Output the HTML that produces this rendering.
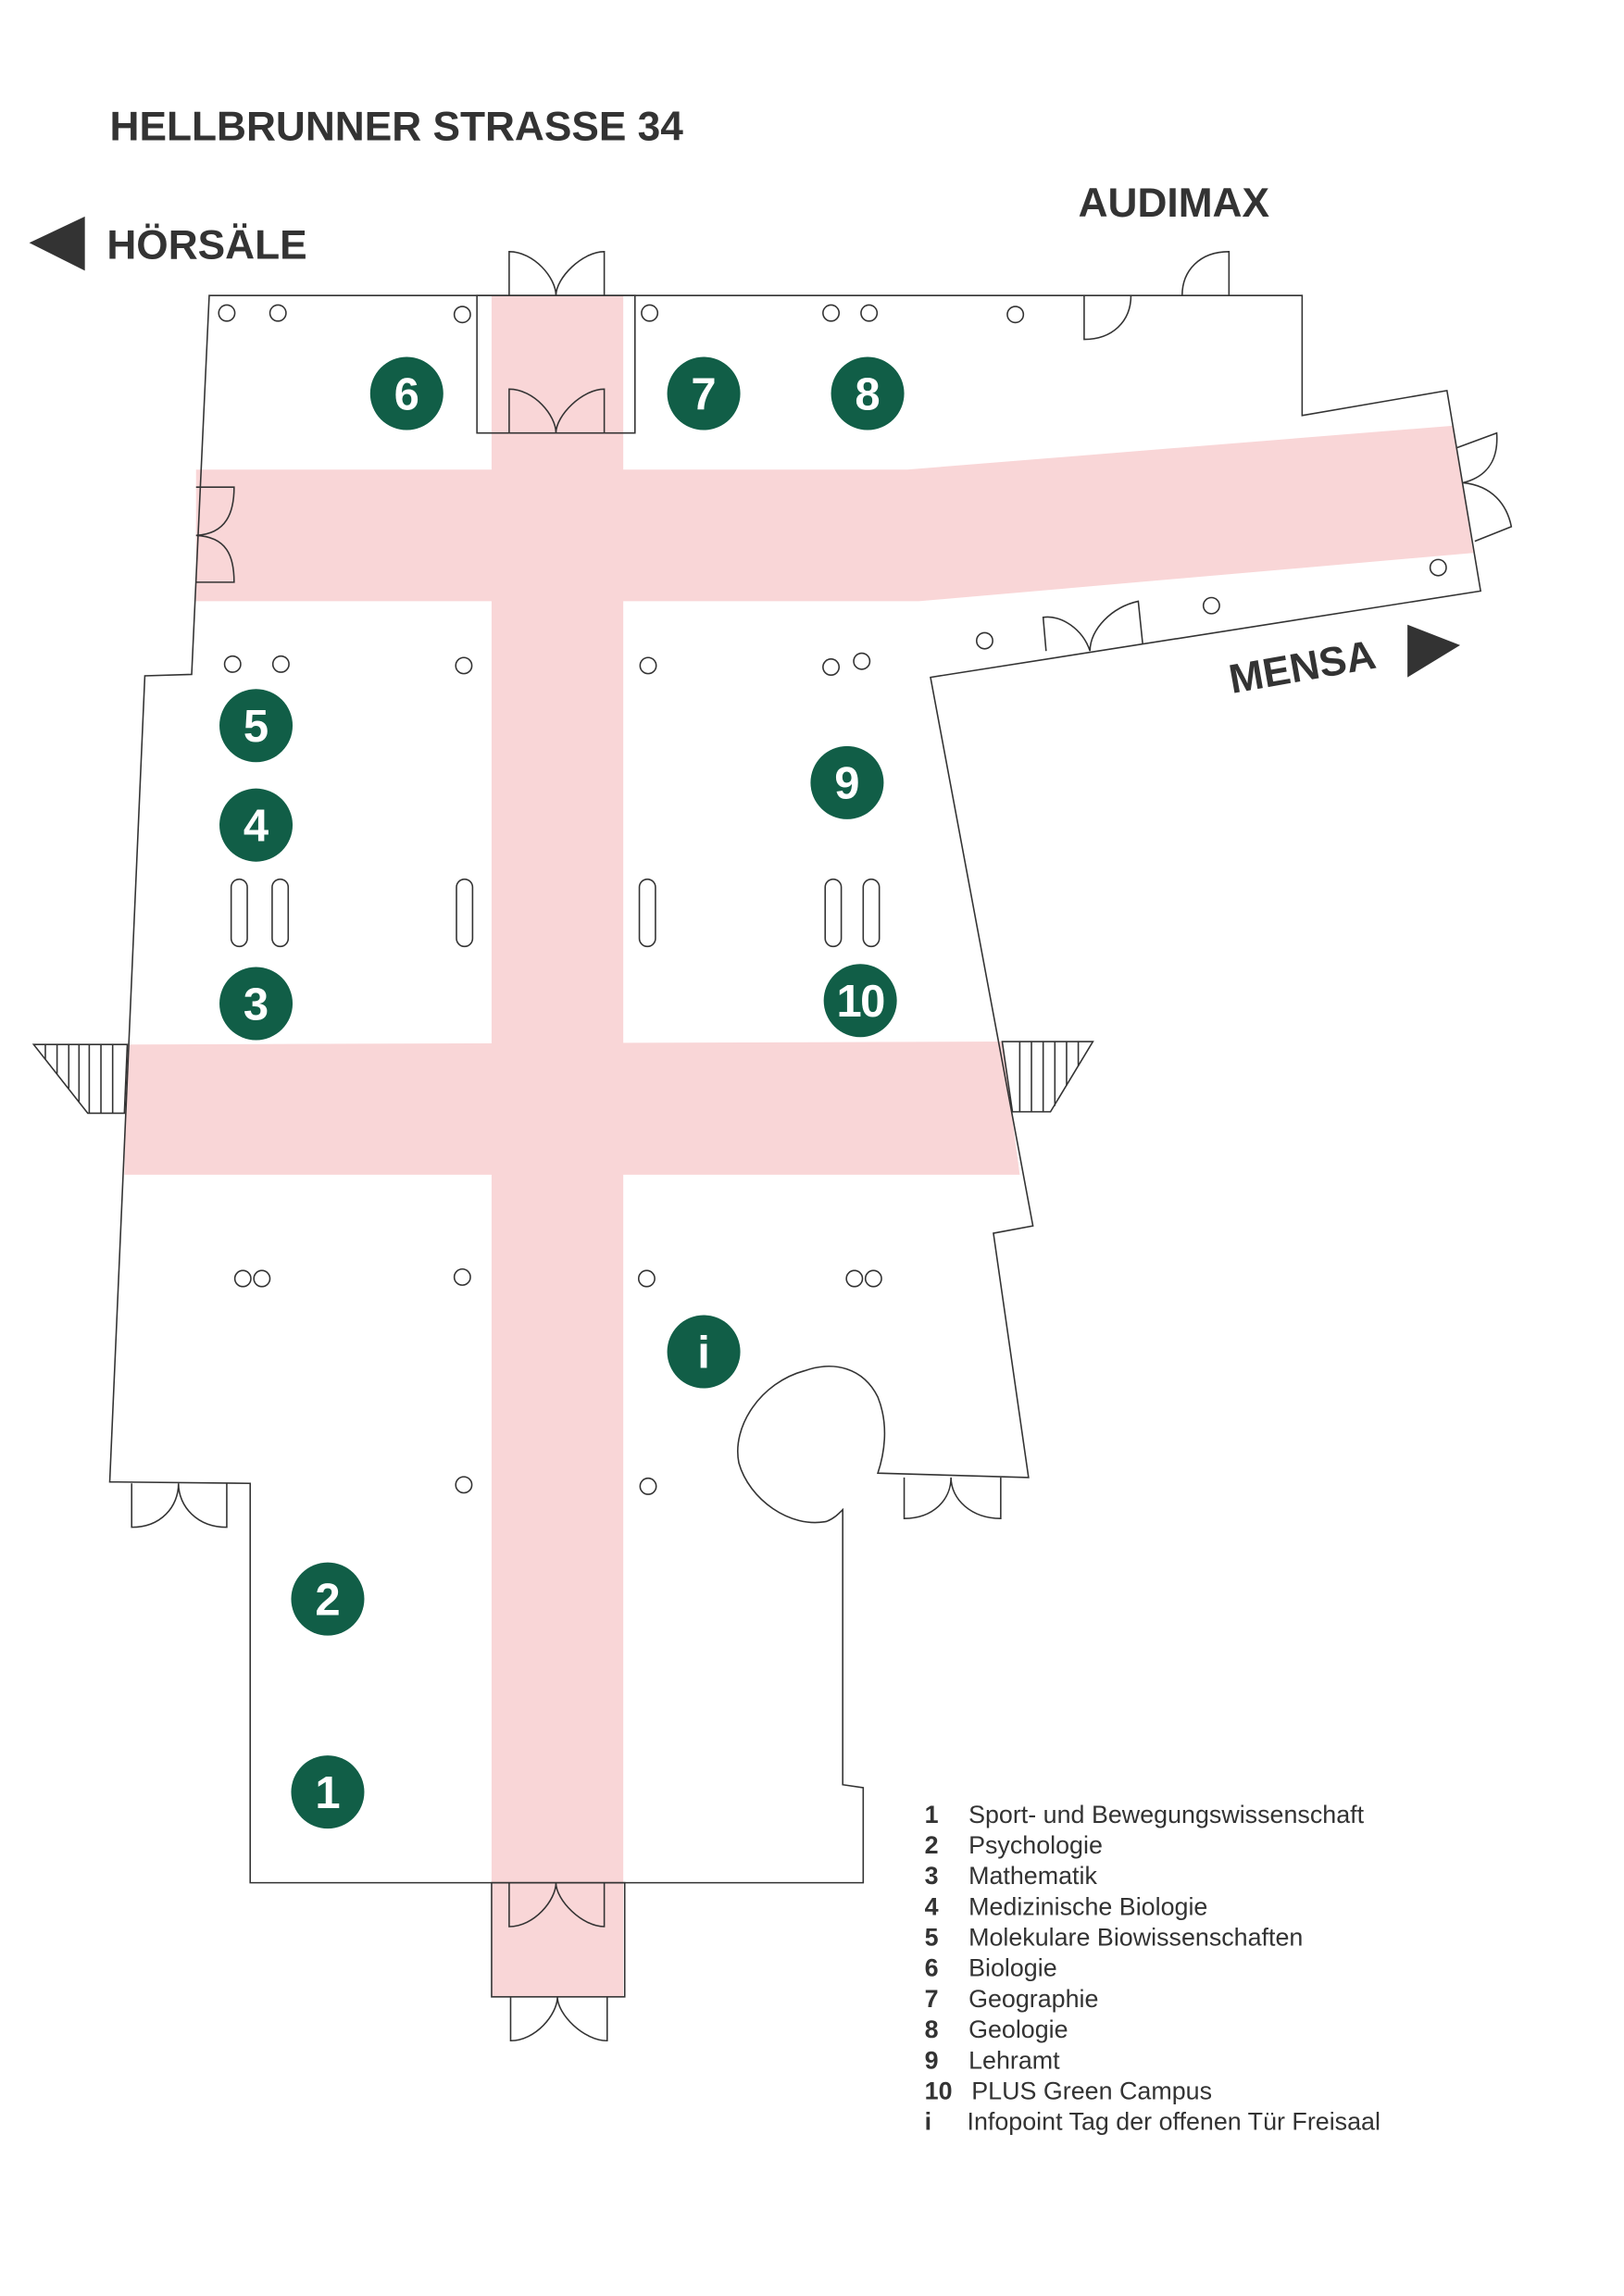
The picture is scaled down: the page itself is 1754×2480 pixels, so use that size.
<!DOCTYPE html>
<html><head><meta charset="utf-8"><style>
html,body{margin:0;padding:0;background:#fff}
svg{display:block}
</style></head><body>
<svg width="1754" height="2480" viewBox="0 0 1110 1569.5" preserveAspectRatio="none" xmlns="http://www.w3.org/2000/svg" font-family="Liberation Sans, sans-serif">
<rect width="1110" height="1570" fill="#fff"/>
<g fill="#333" font-weight="bold">
<text x="75" y="96" font-size="28">HELLBRUNNER STRASSE 34</text>
<text x="73" y="177" font-size="28">HÖRSÄLE</text>
<text x="737" y="148" font-size="28">AUDIMAX</text>
<text x="0" y="0" font-size="28" transform="translate(842,474) rotate(-10)">MENSA</text>
<polygon points="20,166 58,148 58,185"/>
<polygon points="962,427 998,441 962,463"/>
</g>
<g fill="#f9d6d7">
<polygon points="134,321 620,321 993,291 1007,378 628,411 134,411"/>
<polygon points="87,714 685,712 697,803 85,803"/>
<rect x="336" y="202" width="90" height="1163"/>
</g>
<g fill="none" stroke="#333" stroke-width="1">
<path d="M143,202 L890,202 L890,284 L989,267 L1012,404 L636,463 L706,838 L679,843 L703,1010 L600,1007 C604,995 608,975 600,955 C590,935 570,930 550,937 C520,945 500,975 505,1000 C512,1025 540,1045 565,1040 C570,1038 573,1035 576,1032 L576,1220 L590,1222 L590,1287 L171,1287 L171,1014 L75,1013 L99,462 L131,461 Z"/>
<rect x="326" y="202" width="108" height="94"/>
<rect x="336" y="1287" width="91" height="78"/>
<path d="M348,202 V172 C365,172 380,190 380,202 C380,190 398,172 413,172 V202"/>
<path d="M348,296 V266 C365,266 380,284 380,296 C380,284 398,266 413,266 V296"/>
<path d="M348,1287 V1317 C365,1317 380,1299 380,1287 C380,1299 398,1317 413,1317 V1287"/>
<path d="M349,1365 V1395 C366,1395 381,1377 381,1365 C381,1377 399,1395 415,1395 V1365"/>
<path d="M90,1014 V1044 C110,1044 122,1030 122,1014 C122,1030 135,1044 155,1044 V1014"/>
<path d="M618,1010 V1038 C638,1038 650,1025 650,1010 C650,1025 664,1038 684,1038 V1010"/>
<path d="M134,333 H160 C160,350 155,365 134,366 C155,367 160,380 160,398 H134"/>
<path d="M996,306 L1023,296 C1024,310 1020,325 1000,330 C1020,332 1030,345 1033,360 L1008,370"/>
<path d="M715,445 L713,422 C725,420 740,430 745,445 C745,430 760,415 778,411 L781,440"/>
<path d="M840,202 V172 C820,172 808,185 808,202"/>
<path d="M741,202 V232 C760,232 773,220 773,202"/>
<path d="M23,714 H87 L85,761 H60 Z"/>
<path d="M685,712 H747 L718,760 H692 Z"/>
<path d="M31,714 V724 M39,714 V734 M47,714 V744 M54,714 V753 M61,714 V761 M69,714 V761 M77,714 V761"/>
<path d="M697,712 V760 M705,712 V760 M713,712 V760 M721,712 V756 M729,712 V742 M737,712 V729"/>
<g>
<circle cx="155" cy="214" r="5.5"/><circle cx="190" cy="214" r="5.5"/><circle cx="316" cy="215" r="5.5"/>
<circle cx="444" cy="214" r="5.5"/><circle cx="568" cy="214" r="5.5"/><circle cx="594" cy="214" r="5.5"/><circle cx="694" cy="215" r="5.5"/>
<circle cx="673" cy="438" r="5.5"/><circle cx="828" cy="414" r="5.5"/><circle cx="983" cy="388" r="5.5"/>
<circle cx="159" cy="454" r="5.5"/><circle cx="192" cy="454" r="5.5"/><circle cx="317" cy="455" r="5.5"/>
<circle cx="443" cy="455" r="5.5"/><circle cx="568" cy="456" r="5.5"/><circle cx="589" cy="452" r="5.5"/>
<circle cx="166" cy="874" r="5.5"/><circle cx="179" cy="874" r="5.5"/><circle cx="316" cy="873" r="5.5"/>
<circle cx="442" cy="874" r="5.5"/><circle cx="584" cy="874" r="5.5"/><circle cx="597" cy="874" r="5.5"/>
<circle cx="317" cy="1015" r="5.5"/><circle cx="443" cy="1016" r="5.5"/>
<rect x="158" y="601" width="11" height="46" rx="5.5"/><rect x="186" y="601" width="11" height="46" rx="5.5"/>
<rect x="312" y="601" width="11" height="46" rx="5.5"/><rect x="437" y="601" width="11" height="46" rx="5.5"/>
<rect x="564" y="601" width="11" height="46" rx="5.5"/><rect x="590" y="601" width="11" height="46" rx="5.5"/>
</g>
</g>
<g fill="#115e47">
<circle cx="278" cy="269" r="25"/><circle cx="481" cy="269" r="25"/><circle cx="593" cy="269" r="25"/>
<circle cx="175" cy="496" r="25"/><circle cx="175" cy="564" r="25"/><circle cx="175" cy="686" r="25"/>
<circle cx="579" cy="535" r="25"/><circle cx="588" cy="684" r="25"/><circle cx="481" cy="924" r="25"/>
<circle cx="224" cy="1093" r="25"/><circle cx="224" cy="1225" r="25"/>
</g>
<g fill="#fff" font-weight="bold" font-size="31" text-anchor="middle">
<text x="278" y="280">6</text><text x="481" y="280">7</text><text x="593" y="280">8</text>
<text x="175" y="507">5</text><text x="175" y="575">4</text><text x="175" y="697">3</text>
<text x="579" y="546">9</text><text x="588" y="695" letter-spacing="-1">10</text><text x="481" y="935">i</text>
<text x="224" y="1104">2</text><text x="224" y="1236">1</text>
</g>
<g fill="#333" font-size="17">
<g font-weight="bold">
<text x="632" y="1246">1</text><text x="632" y="1267">2</text><text x="632" y="1288">3</text><text x="632" y="1309">4</text>
<text x="632" y="1330">5</text><text x="632" y="1351">6</text><text x="632" y="1372">7</text><text x="632" y="1393">8</text>
<text x="632" y="1414">9</text><text x="632" y="1435">10</text><text x="632" y="1456">i</text>
</g>
<text x="662" y="1246">Sport- und Bewegungswissenschaft</text>
<text x="662" y="1267">Psychologie</text>
<text x="662" y="1288">Mathematik</text>
<text x="662" y="1309">Medizinische Biologie</text>
<text x="662" y="1330">Molekulare Biowissenschaften</text>
<text x="662" y="1351">Biologie</text>
<text x="662" y="1372">Geographie</text>
<text x="662" y="1393">Geologie</text>
<text x="662" y="1414">Lehramt</text>
<text x="664" y="1435">PLUS Green Campus</text>
<text x="661" y="1456">Infopoint Tag der offenen Tür Freisaal</text>
</g>
</svg>
</body></html>
